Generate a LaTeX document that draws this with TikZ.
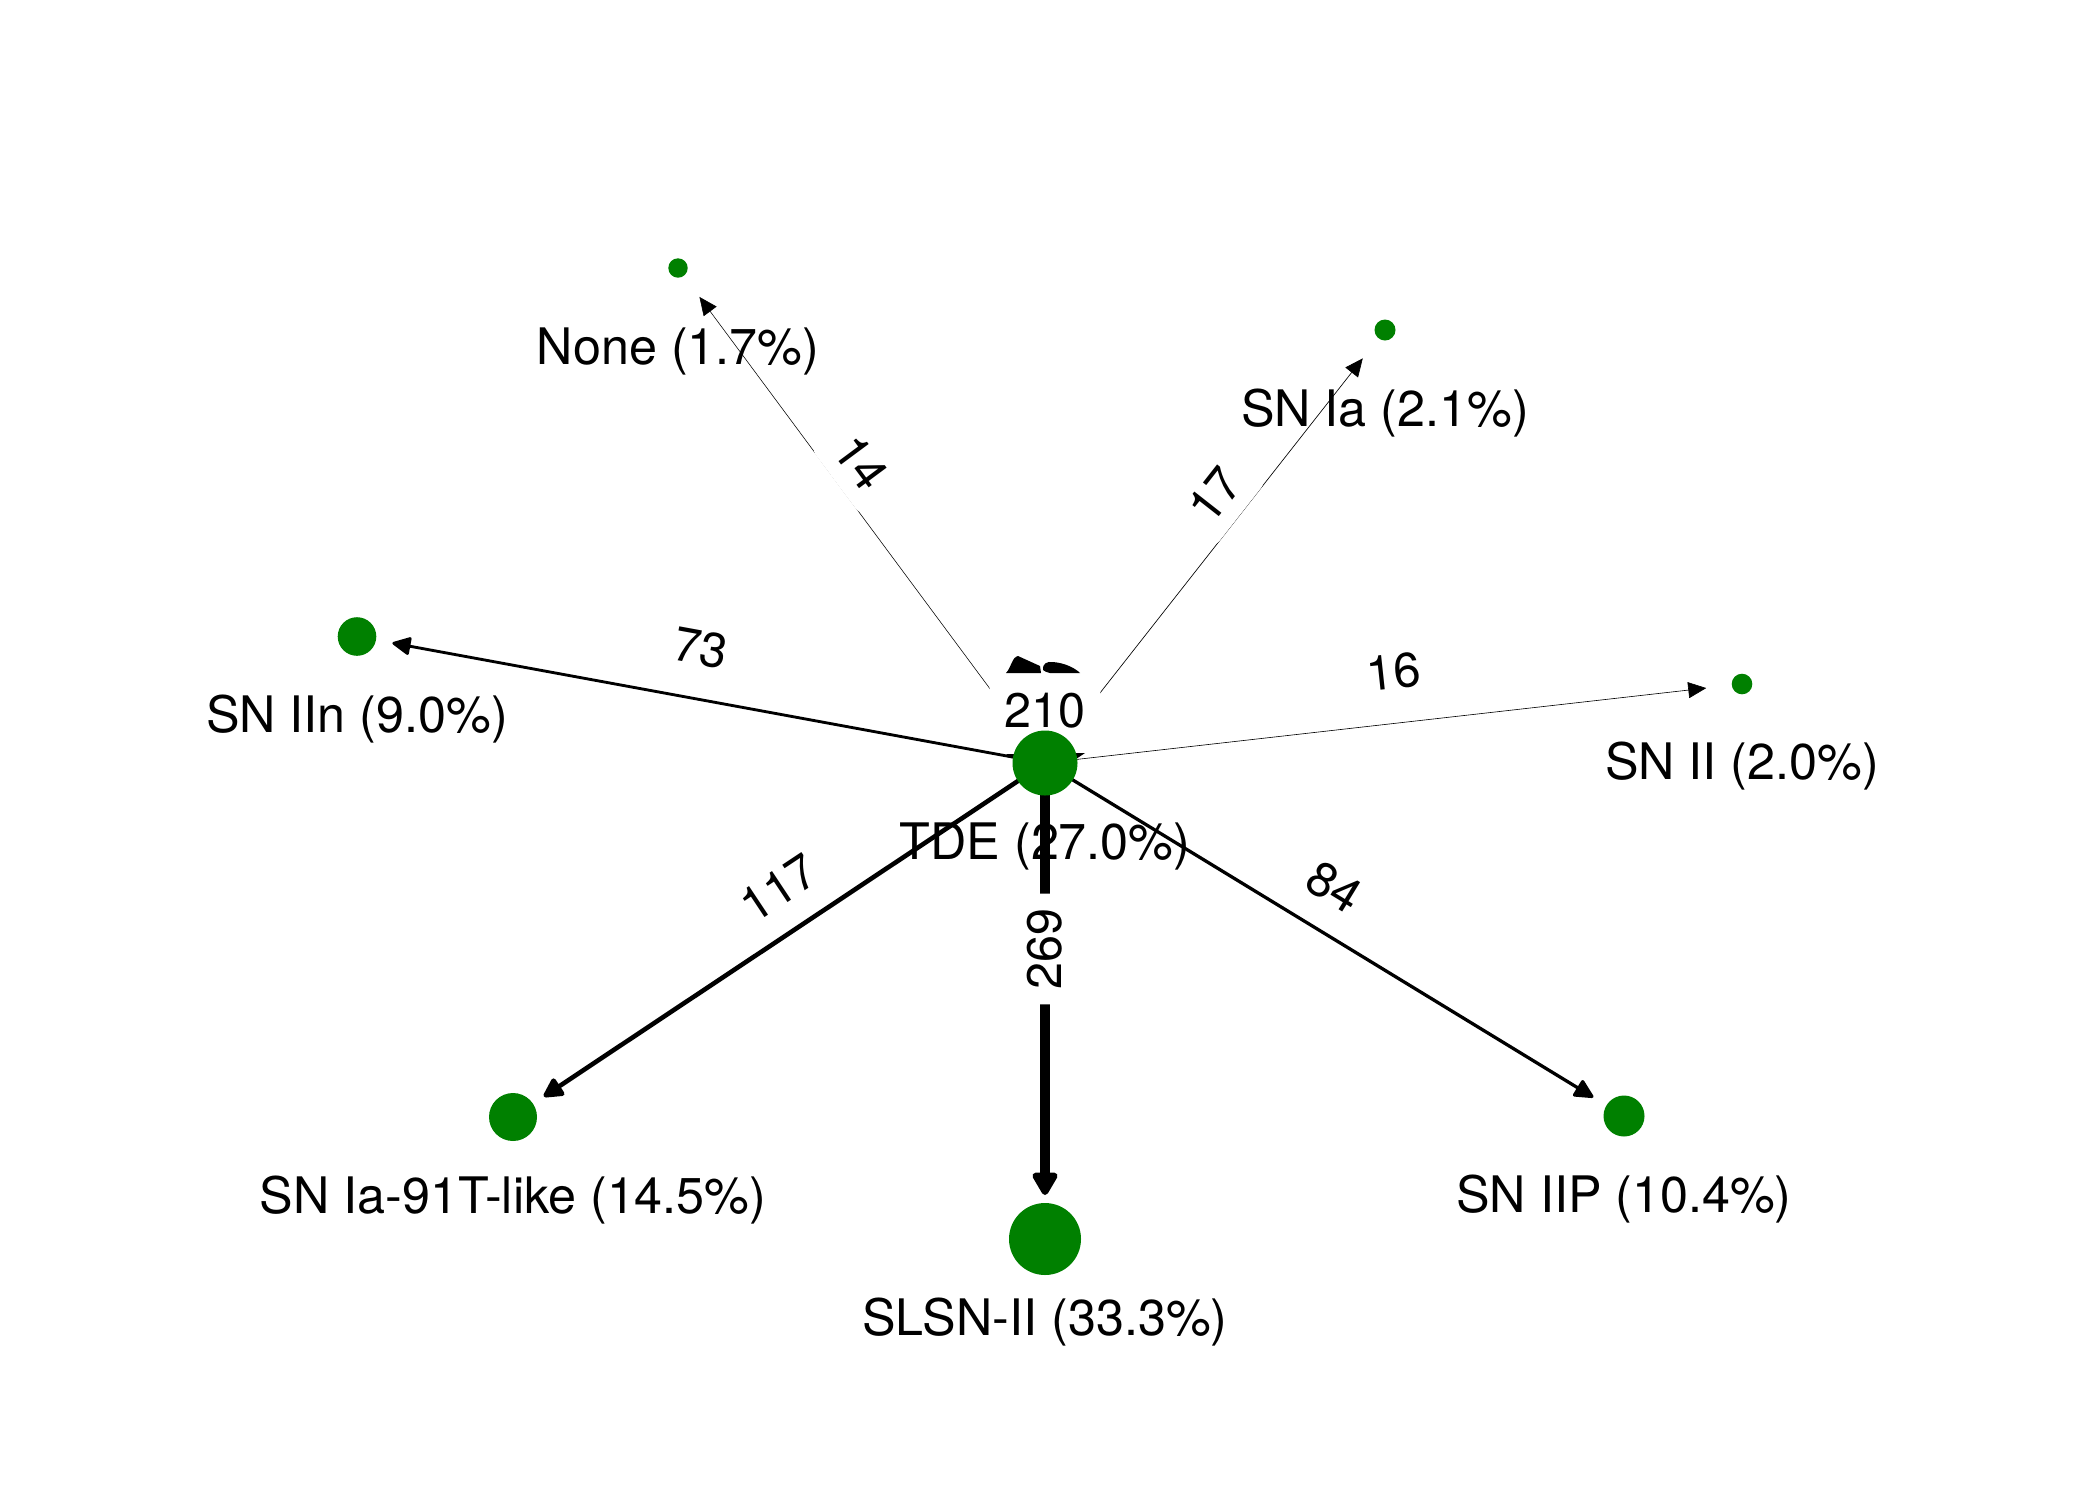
\documentclass[tikz,border=0pt]{standalone}
\usepackage{fontspec}
\setmainfont{TeX Gyre Heros}
\usetikzlibrary{arrows.meta,calc}
\definecolor{nodegreen}{RGB}{0,128,0}
\pgfdeclarelayer{edgelayer}
\pgfdeclarelayer{elabellayer}
\pgfsetlayers{edgelayer,elabellayer,main}
\begin{document}
\begin{tikzpicture}[x=1pt,y=-1pt,
  vert/.style={circle,fill=nodegreen,draw=none,inner sep=0pt,minimum size=#1},
  nlabel/.style={font=\fontsize{50.3}{60}\selectfont,inner sep=0pt},
  elabel/.style={font=\fontsize{48.5}{58}\selectfont,fill=white,rounded corners=8pt,inner sep=15pt},
  edge/.style={draw=black,line join=round},
  thintip/.style={-{Triangle[length=18pt,width=16pt]}}
]
\useasboundingbox (0,0) rectangle (2100,1500);

% nodes
\node[vert=65] (tde) at (1045,763) {};
\node[vert=72] (slsn) at (1045,1239) {};
\node[vert=48] (ia91t) at (513,1117) {};
\node[vert=41] (iip) at (1624,1116) {};
\node[vert=38.6] (iin) at (357,636.5) {};
\node[vert=19.4] (none) at (678,268) {};
\node[vert=21] (snia) at (1385,330) {};
\node[vert=20.6] (snii) at (1742,684) {};

% edges
\begin{pgfonlayer}{edgelayer}
\draw[edge,line width=10.5pt,-{Triangle[length=26pt,width=28pt,round]},shorten >=44pt] (tde.center) -- (slsn.center);
\draw[edge,line width=4.57pt,-{Triangle[length=22pt,width=22pt,round]},shorten >=37pt] (tde.center) -- (ia91t.center);
\draw[edge,line width=3.28pt,-{Triangle[length=21pt,width=20pt,round]},shorten >=36pt] (tde.center) -- (iip.center);
\draw[edge,line width=2.85pt,-{Triangle[length=20pt,width=19pt,round]},shorten >=36pt] (tde.center) -- (iin.center);
\draw[edge,line width=0.55pt,thintip,shorten >=36pt] (tde.center) -- (none.center);
\draw[edge,line width=0.66pt,thintip,shorten >=36pt] (tde.center) -- (snia.center);
\draw[edge,line width=0.62pt,thintip,shorten >=36pt] (tde.center) -- (snii.center);
% small wedges at the sides of TDE
\fill (1006,754) -- (1019,754) -- (1016,760) -- cycle;
\fill (1071,753) -- (1085,753) -- (1076,759) -- cycle;
\end{pgfonlayer}

% edge labels
\begin{pgfonlayer}{elabellayer}
\node[elabel,rotate=90] (l269) at ($(tde)!0.5!(slsn)+(0,-52)$) {269};
\node[elabel,rotate=33.6] (l117) at ($(tde)!0.5!(ia91t)+(0,-52)$) {117};
\node[elabel,rotate=-31.4] (l84) at ($(tde)!0.5!(iip)+(0,-52)$) {84};
\node[elabel,rotate=-10.4] (l73) at ($(tde)!0.5!(iin)+(0,-52)$) {73};
\node[elabel,rotate=-53.4] (l14) at ($(tde)!0.5!(none)+(0,-53)$) {14};
\node[elabel,rotate=51.9] (l17) at ($(tde)!0.5!(snia)+(0,-52)$) {17};
\node[elabel,rotate=6.1] (l16) at ($(tde)!0.5!(snii)+(0,-52)$) {16};
\node[elabel] (l210) at ($(tde)+(0,-52)$) {210};
\end{pgfonlayer}

% self-loop glyph
\fill (1006,673) .. controls (1011,668) and (1012,657) .. (1018,656) -- (1040,666) -- (1041,673) -- cycle;
\fill (1043,670) .. controls (1042,664) and (1047,661) .. (1053,662) .. controls (1065,663) and (1075,668) .. (1080,673) -- (1050,673) .. controls (1047,672) and (1045,672) .. (1043,670) -- cycle;

% node labels
\node[nlabel] (tdel) at ($(tde)+(0,83)$) {TDE (27.0\%)};
\node[nlabel] (slsnl) at ($(slsn)+(0,83)$) {SLSN-II (33.3\%)};
\node[nlabel] (ia91tl) at ($(ia91t)+(0,83)$) {SN Ia-91T-like (14.5\%)};
\node[nlabel] (iipl) at ($(iip)+(0,83)$) {SN IIP (10.4\%)};
\node[nlabel] (iinl) at ($(iin)+(0,83)$) {SN IIn (9.0\%)};
\node[nlabel] (nonel) at ($(none)+(0,83)$) {None (1.7\%)};
\node[nlabel] (snial) at ($(snia)+(0,83)$) {SN Ia (2.1\%)};
\node[nlabel] (sniil) at ($(snii)+(0,82)$) {SN II (2.0\%)};
\end{tikzpicture}
\end{document}
